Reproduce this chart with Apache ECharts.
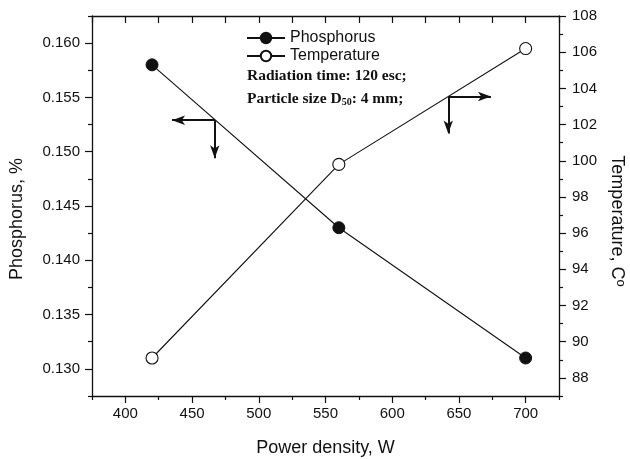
<!DOCTYPE html>
<html>
<head>
<meta charset="utf-8">
<script src="https://cdn.jsdelivr.net/npm/echarts@6/dist/echarts.min.js"></script>
<style>
  html, body { margin: 0; padding: 0; background: #fff; }
  #chart { width: 630px; height: 459px; }
</style>
</head>
<body>
<div id="chart"></div>
<script>
// Measured points
const powerDensity = [420, 560, 700];
const phosphorus = [0.158, 0.143, 0.131];
const temperature = [89.1, 99.8, 106.2];

// Axis ranges and tick values
const xRange = [375, 725];
const xMajorTicks = [400, 450, 500, 550, 600, 650, 700];
const xMinorTicks = [375, 425, 475, 525, 575, 625, 675, 725];
const xTopTicks = [375, 400, 425, 450, 475, 500, 525, 550, 575, 600, 625, 650, 675, 700, 725];
const phRange = [0.1275, 0.1625];
const phMajorTicks = [0.130, 0.135, 0.140, 0.145, 0.150, 0.155, 0.160];
const phMinorTicks = [0.1275, 0.1325, 0.1375, 0.1425, 0.1475, 0.1525, 0.1575, 0.1625];
const tRange = [87, 108];
const tMajorTicks = [88, 90, 92, 94, 96, 98, 100, 102, 104, 106, 108];
const tMinorTicks = [87, 89, 91, 93, 95, 97, 99, 101, 103, 105, 107];

// Corner arrows pointing each curve to its axis: [corner x, corner y, horizontal tip x, vertical tip y]
const phosphorusArrow = [467, 0.1529, 435, 0.1494];
const temperatureArrow = [642, 103.55, 674, 101.5];

const ink = '#111';
const font = 'Liberation Sans, Arial, sans-serif';
const serif = 'Liberation Serif, Times New Roman, serif';

function arrowLines(a) {
  return [
    [{ coord: [a[0], a[1]] }, { coord: [a[2], a[1]] }],
    [{ coord: [a[0], a[1]] }, { coord: [a[0], a[3]] }]
  ];
}

const chart = echarts.init(document.getElementById('chart'), null, { renderer: 'canvas' });

const tickLine = { color: ink, width: 1.2 };

chart.setOption({
  animation: false,
  backgroundColor: '#fff',
  grid: { left: 92, right: 71, top: 16, bottom: 63, containLabel: false, outerBoundsMode: 'none' },
  legend: {
    left: 246, top: 30, orient: 'vertical', itemGap: 2, padding: 0,
    itemWidth: 38, itemHeight: 13,
    textStyle: { fontFamily: font, fontSize: 16, color: ink },
    data: ['Phosphorus', 'Temperature']
  },
  graphic: [
    { type: 'text', left: 247, top: 68,
      style: { text: 'Radiation time: 120 esc;', fontFamily: serif,
               fontWeight: 'bold', fontSize: 15.5, fill: ink } },
    { type: 'text', left: 247, top: 91,
      style: { text: 'Particle size D{sub|50}: 4 mm;', fontFamily: serif,
               fontWeight: 'bold', fontSize: 15.5, fill: ink,
               rich: { sub: { fontFamily: serif, fontWeight: 'bold',
                              fontSize: 10, verticalAlign: 'bottom', padding: [6, 0, 0, 0], fill: ink } } } }
  ],
  xAxis: [
    { type: 'value', position: 'bottom', min: xRange[0], max: xRange[1],
      name: 'Power density, W', nameLocation: 'middle', nameGap: 43,
      nameTextStyle: { fontFamily: font, fontSize: 18, color: ink },
      axisLine: { show: true, lineStyle: { color: ink, width: 1.3 } },
      axisTick: { show: true, inside: false, length: 7, customValues: xMajorTicks, lineStyle: tickLine },
      axisLabel: { customValues: xMajorTicks, margin: 10, fontFamily: font, fontSize: 15, color: ink },
      splitLine: { show: false } },
    { type: 'value', position: 'bottom', min: xRange[0], max: xRange[1],
      axisLine: { show: false },
      axisTick: { show: true, inside: false, length: 4, customValues: xMinorTicks, lineStyle: tickLine },
      axisLabel: { show: false }, splitLine: { show: false } },
    { type: 'value', position: 'top', min: xRange[0], max: xRange[1],
      axisLine: { show: true, lineStyle: { color: ink, width: 1.3 } },
      axisTick: { show: true, inside: true, length: 7, customValues: xTopTicks, lineStyle: tickLine },
      axisLabel: { show: false }, splitLine: { show: false } }
  ],
  yAxis: [
    { type: 'value', position: 'left', min: phRange[0], max: phRange[1],
      name: 'Phosphorus, %', nameLocation: 'middle', nameGap: 66, nameRotate: 90,
      nameTextStyle: { fontFamily: font, fontSize: 18, color: ink, padding: [0, 26, 0, 0] },
      axisLine: { show: true, lineStyle: { color: ink, width: 1.3 } },
      axisTick: { show: true, inside: false, length: 7, customValues: phMajorTicks, lineStyle: tickLine },
      axisLabel: { customValues: phMajorTicks, margin: 12, fontFamily: font, fontSize: 15, color: ink,
                   formatter: v => v.toFixed(3) },
      splitLine: { show: false } },
    { type: 'value', position: 'right', min: tRange[0], max: tRange[1],
      name: '{t|Temperature, C}{o|o}', nameLocation: 'middle', nameGap: 45, nameRotate: -90,
      nameTextStyle: { fontFamily: font, fontSize: 18, color: ink, padding: [0, 0, 0, 30],
                       rich: { t: { fontFamily: font, fontSize: 18, color: ink },
                               o: { fontFamily: font, fontSize: 13, color: ink, verticalAlign: 'top', padding: [0, 0, 8, 0] } } },
      axisLine: { show: true, lineStyle: { color: ink, width: 1.3 } },
      axisTick: { show: true, inside: false, length: 7, customValues: tMajorTicks, lineStyle: tickLine },
      axisLabel: { customValues: tMajorTicks, margin: 13, fontFamily: font, fontSize: 15, color: ink },
      splitLine: { show: false } },
    { type: 'value', position: 'right', min: tRange[0], max: tRange[1],
      axisLine: { show: false },
      axisTick: { show: true, inside: false, length: 4, customValues: tMinorTicks, lineStyle: tickLine },
      axisLabel: { show: false }, splitLine: { show: false } },
    { type: 'value', position: 'left', min: phRange[0], max: phRange[1],
      axisLine: { show: false },
      axisTick: { show: true, inside: false, length: 4, customValues: phMinorTicks, lineStyle: tickLine },
      axisLabel: { show: false }, splitLine: { show: false } }
  ],
  series: [
    { name: 'Phosphorus', type: 'line', xAxisIndex: 0, yAxisIndex: 0,
      data: powerDensity.map((x, i) => [x, phosphorus[i]]),
      symbol: 'circle', symbolSize: 12, showAllSymbol: true,
      lineStyle: { color: ink, width: 1.1 },
      itemStyle: { color: ink, borderColor: ink, borderWidth: 1 },
      markLine: { silent: true, symbol: ['none', 'arrow'], symbolSize: [7, 13],
                  label: { show: false }, lineStyle: { color: ink, width: 2, type: 'solid' },
                  data: arrowLines(phosphorusArrow) },
      z: 3 },
    { name: 'Temperature', type: 'line', xAxisIndex: 0, yAxisIndex: 1,
      data: powerDensity.map((x, i) => [x, temperature[i]]),
      symbol: 'circle', symbolSize: 12, showAllSymbol: true,
      lineStyle: { color: ink, width: 1.1 },
      itemStyle: { color: '#fff', borderColor: ink, borderWidth: 1.1 },
      markLine: { silent: true, symbol: ['none', 'arrow'], symbolSize: [7, 13],
                  label: { show: false }, lineStyle: { color: ink, width: 2, type: 'solid' },
                  data: arrowLines(temperatureArrow) },
      z: 3 }
  ]
});
</script>
</body>
</html>
